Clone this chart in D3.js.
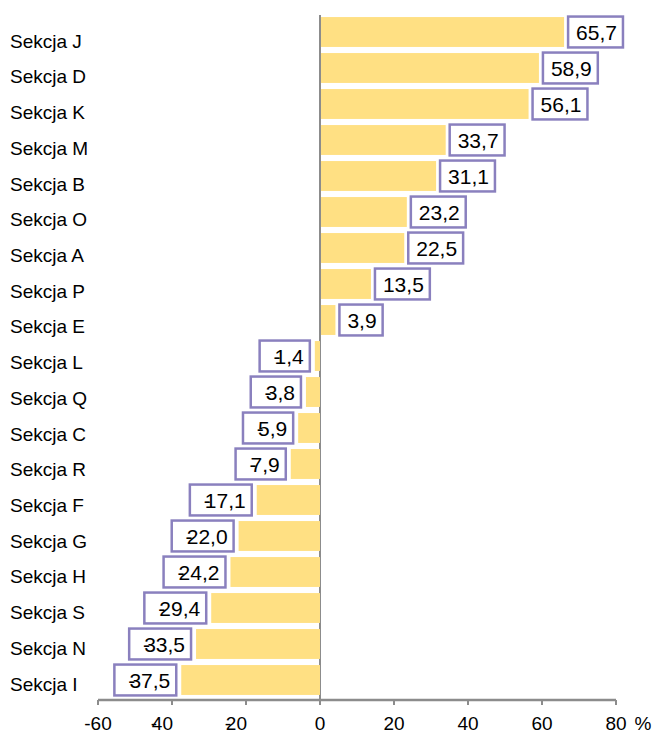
<!DOCTYPE html>
<html>
<head>
<meta charset="utf-8">
<script src="https://cdn.jsdelivr.net/npm/d3@7"></script>
<style>
body { margin: 0; background: #fff; }
text { font-family: "Liberation Sans", Arial, sans-serif; fill: #000; }
</style>
</head>
<body>
<div id="chart"></div>
<script>
// dane
var categories = ["Sekcja J", "Sekcja D", "Sekcja K", "Sekcja M", "Sekcja B", "Sekcja O", "Sekcja A",
  "Sekcja P", "Sekcja E", "Sekcja L", "Sekcja Q", "Sekcja C", "Sekcja R", "Sekcja F", "Sekcja G",
  "Sekcja H", "Sekcja S", "Sekcja N", "Sekcja I"];
var values = [65.7, 58.9, 56.1, 33.7, 31.1, 23.2, 22.5, 13.5, 3.9, -1.4, -3.8, -5.9, -7.9,
  -17.1, -22.0, -24.2, -29.4, -33.5, -37.5];
var xTicks = [-60, -40, -20, 0, 20, 40, 60, 80];
var unitLabel = "%";

var W = 653, H = 733;
var barColor = "#FFE083", boxColor = "#8A80BE", axisColor = "#8C8C8C";

var svg = d3.select("#chart").append("svg").attr("width", W).attr("height", H);

var x = d3.scaleLinear().domain([-60, 80]).range([98, 616]);
var y = d3.scaleBand().domain(categories).range([14, 698]).paddingInner(0.17).paddingOuter(0.085);
// etykiety kategorii nie leżą dokładnie na środkach słupków
var yLabel = d3.scalePoint().domain(categories).range([41, 684]);
var axisY = 700;

// d3.format daje znak U+2212, zamieniamy na zwykły minus i przecinek dziesiętny
var fmt = function(v) { return d3.format(".1f")(v).replace("\u2212", "-").replace(".", ","); };

// minus nachodzi na pierwszą cyfrę, jak w oryginale
function writeNum(t, str, overlap) {
  if (overlap && str.charAt(0) === "-") {
    t.append("tspan").style("letter-spacing", "-0.28em").text("-");
    t.append("tspan").text(str.slice(1));
  } else {
    t.text(str);
  }
}

// linia zero
svg.append("line")
  .attr("x1", x(0)).attr("x2", x(0))
  .attr("y1", 15).attr("y2", axisY)
  .style("stroke", axisColor).style("stroke-width", 2);

// słupki
var rows = svg.append("g").selectAll("g").data(categories).enter().append("g");

rows.append("rect")
  .attr("x", function(d, i) { return x(Math.min(0, values[i])) + (values[i] < 0 ? 0 : 1); })
  .attr("y", function(d) { return y(d); })
  .attr("width", function(d, i) { return Math.abs(x(values[i]) - x(0)); })
  .attr("height", y.bandwidth())
  .style("fill", barColor);

// etykiety kategorii
rows.append("text")
  .attr("x", 10)
  .attr("y", function(d) { return yLabel(d); })
  .attr("dy", "0.35em")
  .style("font-size", "19px")
  .text(function(d) { return d; });

// etykiety wartości w ramkach
rows.each(function(d, i) {
  var g = d3.select(this), v = values[i], str = fmt(v);
  var probe = g.append("text").style("font-size", "21px").text(str);
  var tw = probe.node().getComputedTextLength();
  probe.remove();
  var bw = tw + 14, bh = y.bandwidth() + 1;
  var bx = v >= 0 ? x(v) + 5 : x(v) - 5 - bw;
  var by = y(d) + y.bandwidth() / 2 - bh / 2;
  g.append("rect")
    .attr("x", bx).attr("y", by).attr("width", bw).attr("height", bh)
    .style("fill", "#fff").style("stroke", boxColor).style("stroke-width", 2.5);
  var t = g.append("text")
    .attr("x", bx + bw - 6)
    .attr("y", by + bh / 2)
    .attr("dy", "0.36em")
    .attr("text-anchor", "end")
    .style("font-size", "21px");
  writeNum(t, str, true);
});

// oś X
var axis = svg.append("g").attr("transform", "translate(0," + axisY + ")");
axis.append("line")
  .attr("x1", x(-60)).attr("x2", x(80))
  .style("stroke", axisColor).style("stroke-width", 2.5);
axis.selectAll(".tick").data(xTicks).enter().append("line")
  .attr("x1", function(d) { return x(d); }).attr("x2", function(d) { return x(d); })
  .attr("y1", 0).attr("y2", 5)
  .style("stroke", axisColor).style("stroke-width", 2);
axis.selectAll(".lbl").data(xTicks).enter().append("text")
  .attr("x", function(d) { return d < 0 && d > -60 ? x(d) + 1 : x(d); })
  .attr("y", 23)
  .attr("dy", "0.35em")
  .attr("text-anchor", function(d) { return d < 0 && d > -60 ? "end" : "middle"; })
  .style("font-size", "19px")
  .each(function(d) { writeNum(d3.select(this), String(d), d > -60); });
axis.append("text")
  .attr("x", 643).attr("y", 23).attr("dy", "0.35em")
  .attr("text-anchor", "middle")
  .style("font-size", "19px")
  .text(unitLabel);
</script>
</body>
</html>
